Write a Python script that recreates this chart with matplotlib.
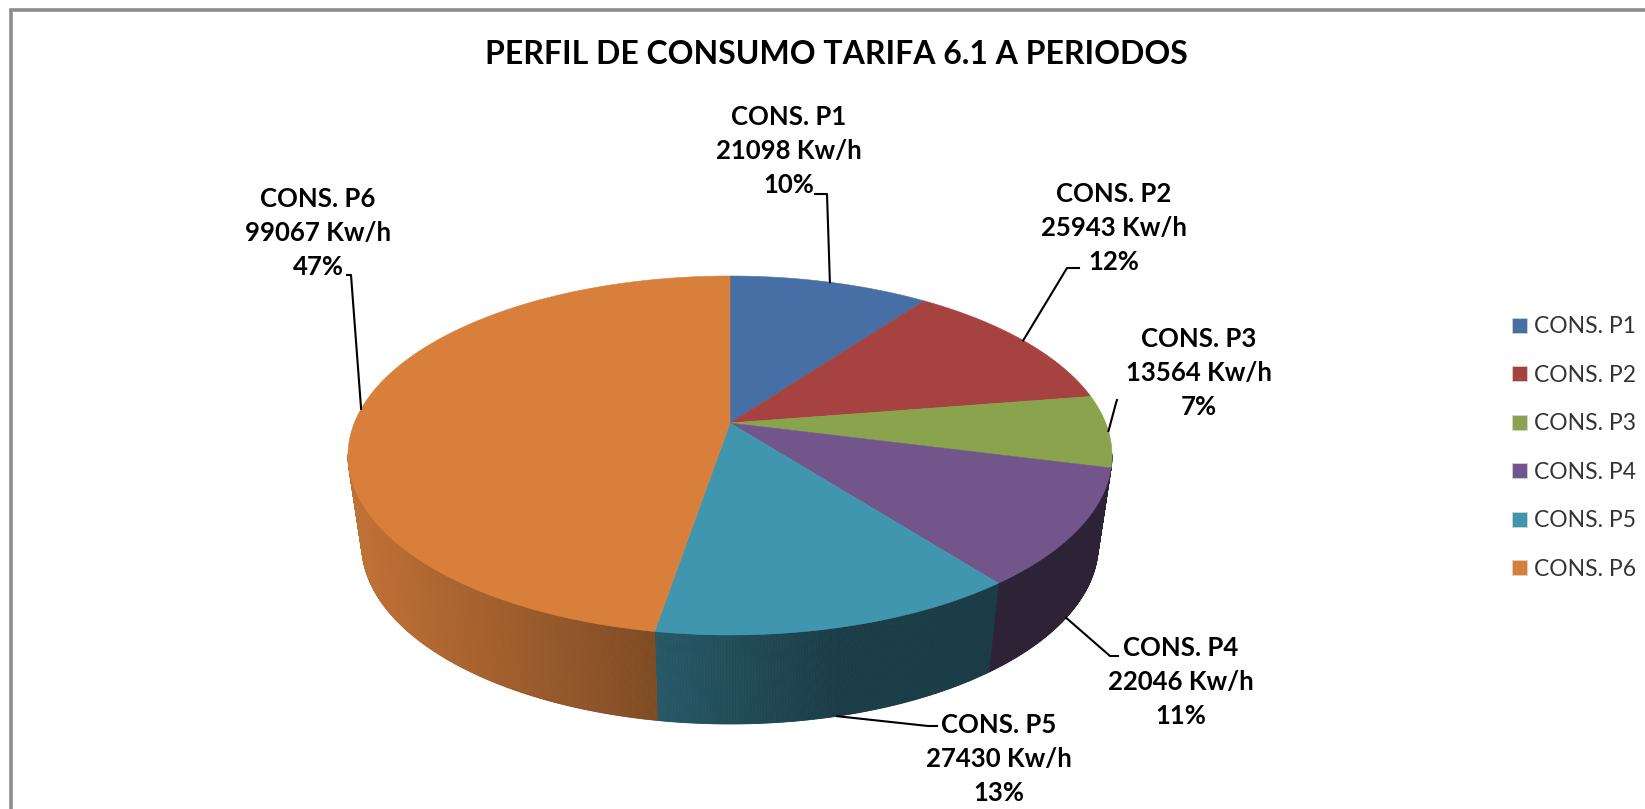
#import libraries
import numpy as np
import matplotlib.pyplot as plt
from matplotlib.patches import Patch
from matplotlib.colors import to_rgb

plt.rcParams['font.family'] = ['Lato', 'DejaVu Sans']

#chart data
categories = ['CONS. P1', 'CONS. P2', 'CONS. P3', 'CONS. P4', 'CONS. P5', 'CONS. P6']
values = [21098, 25943, 13564, 22046, 27430, 99067]
percent_labels = ['10%', '12%', '7%', '11%', '13%', '47%']
colors = ['#4670A5', '#A64340', '#89A44D', '#72558A', '#4196AF', '#D87F3C']

#layout of the labels, in pixels of the picture
label_centers = [(789, 151), (1114, 228), (1199, 373), (1181, 682), (999, 759), (318, 233)]
leader_knees = [[(827, 194), (815, 194)], [(1067, 268), (1079, 268)], [(1116, 403), (1117, 400)],
                [(1110, 656), (1118, 656)], [(928, 726), (937, 726)], [(351, 275), (347, 275)]]
anchor_on_wall = [False, False, False, True, True, False]

#the tilted pie is a circle seen in perspective
cx, cy = 730, 423
b, a, k = 375.7, 173.6, 0.181
depth = 89
bottom_scale = 0.964

def top_edge(theta):
    x = np.sin(theta)
    y = np.cos(theta)
    return cx + b*x/(1 + k*y), cy - a*y/(1 + k*y)

def bottom_edge(theta):
    x = np.sin(theta)
    y = np.cos(theta)
    return cx + bottom_scale*b*x/(1 + k*y), cy - a*y/(1 + k*y) + depth

def shade(x):
    #side wall is lighter on the left and dark on the right
    return np.clip(0.88 - 0.48*(x - 362)/478, 0.40, 0.88)

fig = plt.figure(figsize=(16.45, 8.09), dpi=100)
ax = fig.add_axes([0, 0, 1, 1])
ax.set_xlim(0, 1645)
ax.set_ylim(809, 0)
ax.axis('off')

#frame of the chart
ax.plot([11, 11, 1645], [809, 10, 10], color='#8C8C8C', lw=2.6, solid_joinstyle='miter')

edges = 2*np.pi*np.concatenate(([0], np.cumsum(values)))/np.sum(values)
wall_start, wall_end = np.radians(100), np.radians(260)

#side wall, drawn in thin strips to get the gradient
for i in range(len(values)):
    t1 = max(edges[i], wall_start)
    t2 = min(edges[i + 1], wall_end)
    if t2 <= t1:
        continue
    steps = np.linspace(t1, t2, int((t2 - t1)*300) + 2)
    for s1, s2 in zip(steps[:-1], steps[1:]):
        t = np.linspace(s1, s2, 3)
        xt, yt = top_edge(t)
        xb, yb = bottom_edge(t)
        c = np.array(to_rgb(colors[i]))*shade(xt.mean())
        ax.fill(np.r_[xt, xb[::-1]], np.r_[yt, yb[::-1]], color=c, lw=0.6)

#top of the pie
for i in range(len(values)):
    t = np.linspace(edges[i], edges[i + 1], 200)
    xt, yt = top_edge(t)
    ax.fill(np.r_[cx, xt], np.r_[cy, yt], color=colors[i], lw=0.4)

#labels with leader lines
for i in range(len(values)):
    mid = (edges[i] + edges[i + 1])/2
    if anchor_on_wall[i]:
        px, py = bottom_edge(mid)
    else:
        px, py = top_edge(mid)
    knees = leader_knees[i]
    ax.plot([px] + [p[0] for p in knees], [py] + [p[1] for p in knees], color='black', lw=1.5)
    lx, ly = label_centers[i]
    text = categories[i] + '\n' + str(values[i]) + ' Kw/h\n' + percent_labels[i]
    ax.text(lx, ly, text, ha='center', va='center', fontsize=18.5, fontweight='bold',
            color='black', linespacing=1.5)

ax.text(836, 54, 'PERFIL DE CONSUMO TARIFA 6.1 A PERIODOS', ha='center', va='center',
        fontsize=23, fontweight='bold', color='black')

handles = [Patch(facecolor=c, edgecolor='#D8D8D8', lw=0.5) for c in colors]
ax.legend(handles, categories, loc='center left', bbox_to_anchor=(1512/1645, 1 - 448/809),
          frameon=False, fontsize=16.5, labelcolor='#333333', labelspacing=1.2,
          handlelength=0.64, handleheight=0.64, handletextpad=0.3, borderpad=0, borderaxespad=0)

plt.savefig('out.png', dpi=100)
